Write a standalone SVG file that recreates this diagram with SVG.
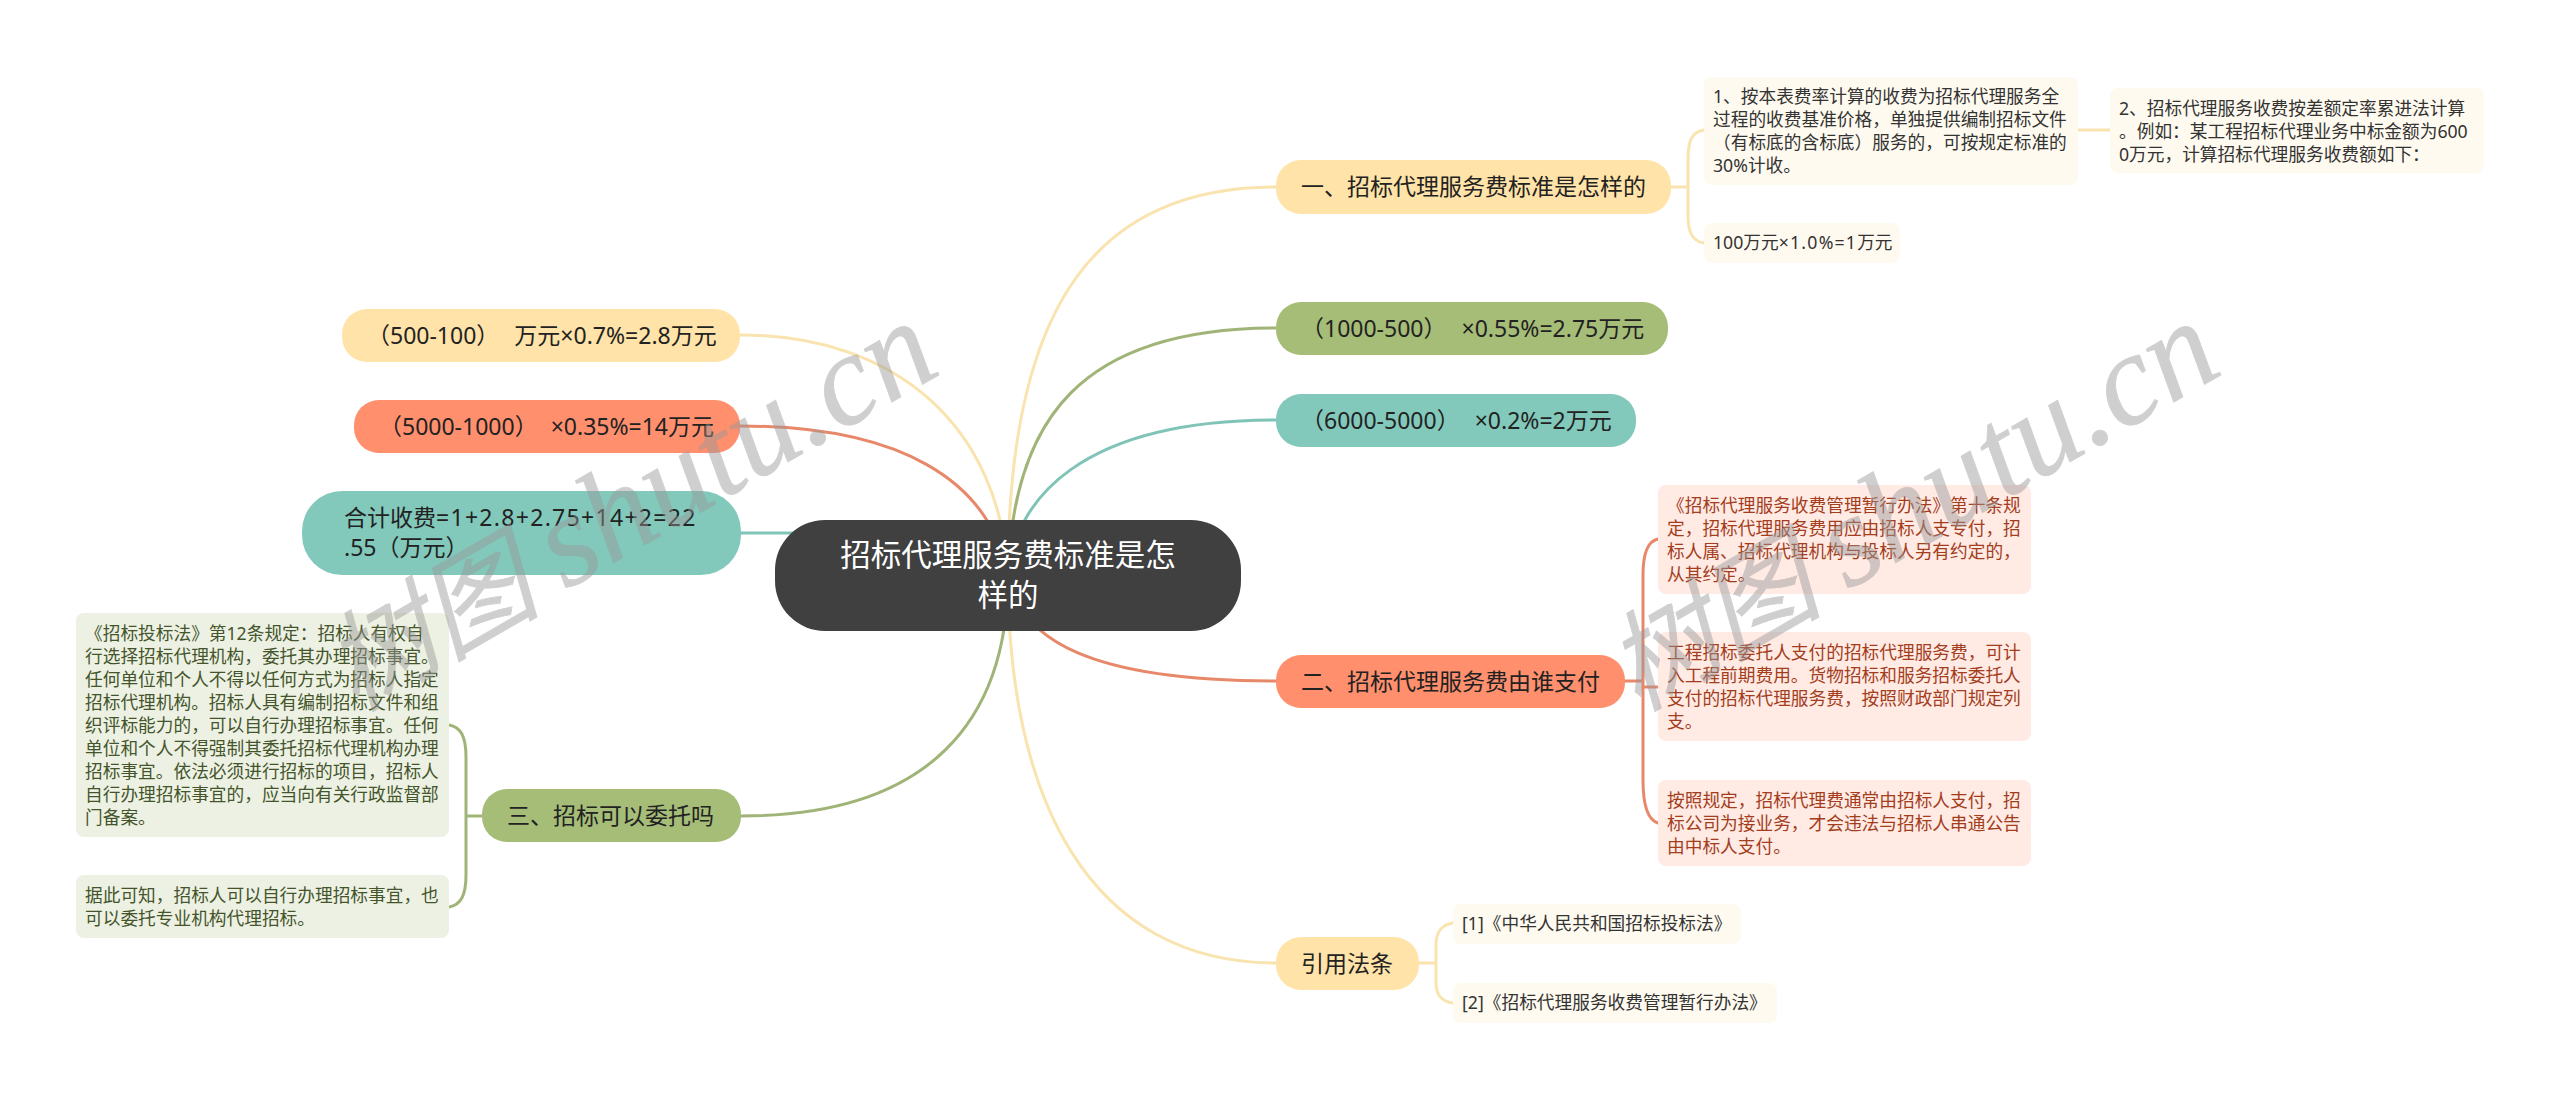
<svg xmlns="http://www.w3.org/2000/svg" width="2560" height="1100" viewBox="0 0 2560 1100">
<style>
text{font-family:"Noto Sans","Noto Sans CJK SC",sans-serif}
.c{fill:none;stroke-width:3;stroke-linecap:round}
.y{stroke:#f9e4b0}.g{stroke:#a0b478}.t{stroke:#7fc4b6}.s{stroke:#e8886a}
.n{font-size:23px;fill:#222}
.l{font-size:17.7px}
.ly{fill:#fefaef}.ls{fill:#ffeae4}.lg{fill:#edf1e3}
.ty{fill:#333}.ts{fill:#a33d1c}.tg{fill:#44552c}
.wm{font-family:"Liberation Serif","Noto Sans CJK SC",serif;font-style:italic;fill:#999;stroke:#999;stroke-width:.8;opacity:.46}
.wb{font-size:130px}
</style>
<rect width="2560" height="1100" fill="#fff"/>
<g id="connectors">
<path class="c y" d="M1008 575C1008 300 1100 187 1276 187"/>
<path class="c g" d="M1008 575C1013 420 1080 328 1276 328"/>
<path class="c t" d="M1008 575C1015 500 1080 420 1276 420"/>
<path class="c s" d="M1008 575C1020 640 1090 681 1276 681"/>
<path class="c y" d="M1008 575C1008 800 1090 963 1276 963"/>
<path class="c g" d="M1008 575C1008 720 930 816 741 816"/>
<path class="c y" d="M1008 575C1000 430 900 335 740 335"/>
<path class="c s" d="M1008 575C990 480 900 426 740 426"/>
<path class="c t" d="M741 533H800"/>
<path class="c y" d="M1671 187H1688M1704 130C1692 132 1688 140 1688 160V215C1688 232 1692 241 1704 243"/>
<path class="c y" d="M2078 130H2110"/>
<path class="c s" d="M1625 681H1643M1643 687H1658M1658 539C1648 541 1643 552 1643 575V780C1643 805 1648 820 1658 823"/>
<path class="c y" d="M1419 963H1436M1453 923C1441 925 1436 932 1436 945V982C1436 995 1441 1001 1453 1003"/>
<path class="c g" d="M482 816H466M449 725C461 727 466 737 466 757V875C466 895 461 905 449 907"/>
</g>
<g id="root"><rect x="775" y="520" width="466" height="111" rx="50" fill="#404040"/>
<text x="1008" y="566" text-anchor="middle" font-size="30.5" fill="#fff">招标代理服务费标准是怎</text>
<text x="1008" y="606" text-anchor="middle" font-size="30.5" fill="#fff">样的</text></g>
<g id="n1"><rect x="1276" y="160" width="395" height="54" rx="25" fill="#ffe3a8"/><text class="n" x="1301" y="195">一、招标代理服务费标准是怎样的</text></g>
<g id="n2"><rect x="1276" y="302" width="392" height="53" rx="25" fill="#a6bd78"/><text class="n" x="1301" y="337">（1000-500）<tspan dx="15">×0.55%=2.75万元</tspan></text></g>
<g id="n3"><rect x="1276" y="394" width="360" height="53" rx="25" fill="#82c9bb"/><text class="n" x="1301" y="429">（6000-5000）<tspan dx="15">×0.2%=2万元</tspan></text></g>
<g id="n4"><rect x="1276" y="655" width="349" height="53" rx="25" fill="#ff8f6d"/><text class="n" x="1301" y="690">二、招标代理服务费由谁支付</text></g>
<g id="n5"><rect x="1276" y="937" width="143" height="53" rx="25" fill="#ffe3a8"/><text class="n" x="1301" y="972">引用法条</text></g>
<g id="n6"><rect x="342" y="309" width="398" height="53" rx="25" fill="#ffe3a8"/><text class="n" x="367" y="344">（500-100）<tspan dx="15">万元×0.7%=2.8万元</tspan></text></g>
<g id="n7"><rect x="354" y="400" width="386" height="53" rx="25" fill="#ff8f6d"/><text class="n" x="379" y="435">（5000-1000）<tspan dx="13">×0.35%=14万元</tspan></text></g>
<g id="n8"><rect x="302" y="491" width="439" height="84" rx="40" fill="#82c9bb"/><text class="n" x="344" y="526">合计收费<tspan letter-spacing="1.3">=1+2.8+2.75+14+2=22</tspan></text><text class="n" x="344" y="556">.55（万元）</text></g>
<g id="n9"><rect x="482" y="789" width="259" height="53" rx="25" fill="#a6bd78"/><text class="n" x="507" y="824">三、招标可以委托吗</text></g>
<g id="a1"><rect class="ly" x="1704" y="77" width="374" height="108" rx="8"/>
<text class="l ty" x="1713" y="103">1、按本表费率计算的收费为招标代理服务全</text>
<text class="l ty" x="1713" y="126">过程的收费基准价格，单独提供编制招标文件</text>
<text class="l ty" x="1713" y="149">（有标底的含标底）服务的，可按规定标准的</text>
<text class="l ty" x="1713" y="172">30%计收。</text></g>
<g id="a2"><rect class="ly" x="1704" y="223" width="196" height="40" rx="8"/><text class="l ty" x="1713" y="249">100万元<tspan letter-spacing="1.2">×1.0%=1</tspan>万元</text></g>
<g id="a3"><rect class="ly" x="2110" y="88" width="374" height="85" rx="8"/>
<text class="l ty" x="2119" y="115">2、招标代理服务收费按差额定率累进法计算</text>
<text class="l ty" x="2119" y="138">。例如：某工程招标代理业务中标金额为600</text>
<text class="l ty" x="2119" y="161">0万元，计算招标代理服务收费额如下：</text></g>
<g id="b1"><rect class="ls" x="1658" y="485" width="373" height="109" rx="8"/>
<text class="l ts" x="1667" y="512">《招标代理服务收费管理暂行办法》第十条规</text>
<text class="l ts" x="1667" y="535">定，招标代理服务费用应由招标人支专付，招</text>
<text class="l ts" x="1667" y="558">标人属、招标代理机构与投标人另有约定的，</text>
<text class="l ts" x="1667" y="581">从其约定。</text></g>
<g id="b2"><rect class="ls" x="1658" y="632" width="373" height="109" rx="8"/>
<text class="l ts" x="1667" y="659">工程招标委托人支付的招标代理服务费，可计</text>
<text class="l ts" x="1667" y="682">入工程前期费用。货物招标和服务招标委托人</text>
<text class="l ts" x="1667" y="705">支付的招标代理服务费，按照财政部门规定列</text>
<text class="l ts" x="1667" y="728">支。</text></g>
<g id="b3"><rect class="ls" x="1658" y="780" width="373" height="86" rx="8"/>
<text class="l ts" x="1667" y="807">按照规定，招标代理费通常由招标人支付，招</text>
<text class="l ts" x="1667" y="830">标公司为接业务，才会违法与招标人串通公告</text>
<text class="l ts" x="1667" y="853">由中标人支付。</text></g>
<g id="c1"><rect class="ly" x="1453" y="904" width="288" height="40" rx="8"/><text class="l ty" x="1462" y="930">[1]《中华人民共和国招标投标法》</text></g>
<g id="c2"><rect class="ly" x="1453" y="983" width="324" height="40" rx="8"/><text class="l ty" x="1462" y="1009">[2]《招标代理服务收费管理暂行办法》</text></g>
<g id="d1"><rect class="lg" x="76" y="613" width="373" height="224" rx="8"/>
<text class="l tg" x="85" y="640">《招标投标法》第12条规定：招标人有权自</text>
<text class="l tg" x="85" y="663">行选择招标代理机构，委托其办理招标事宜。</text>
<text class="l tg" x="85" y="686">任何单位和个人不得以任何方式为招标人指定</text>
<text class="l tg" x="85" y="709">招标代理机构。招标人具有编制招标文件和组</text>
<text class="l tg" x="85" y="732">织评标能力的，可以自行办理招标事宜。任何</text>
<text class="l tg" x="85" y="755">单位和个人不得强制其委托招标代理机构办理</text>
<text class="l tg" x="85" y="778">招标事宜。依法必须进行招标的项目，招标人</text>
<text class="l tg" x="85" y="801">自行办理招标事宜的，应当向有关行政监督部</text>
<text class="l tg" x="85" y="824">门备案。</text></g>
<g id="d2"><rect class="lg" x="76" y="875" width="373" height="63" rx="8"/>
<text class="l tg" x="85" y="902">据此可知，招标人可以自行办理招标事宜，也</text>
<text class="l tg" x="85" y="925">可以委托专业机构代理招标。</text></g>
<g id="watermark">
<text class="wm" text-anchor="end" transform="translate(944 372) rotate(-30)"><tspan font-size="108">树图 </tspan><tspan class="wb">shutu.cn</tspan></text>
<text class="wm" text-anchor="end" transform="translate(2226 372) rotate(-30)"><tspan font-size="108">树图 </tspan><tspan class="wb">shutu.cn</tspan></text>
</g>
</svg>
